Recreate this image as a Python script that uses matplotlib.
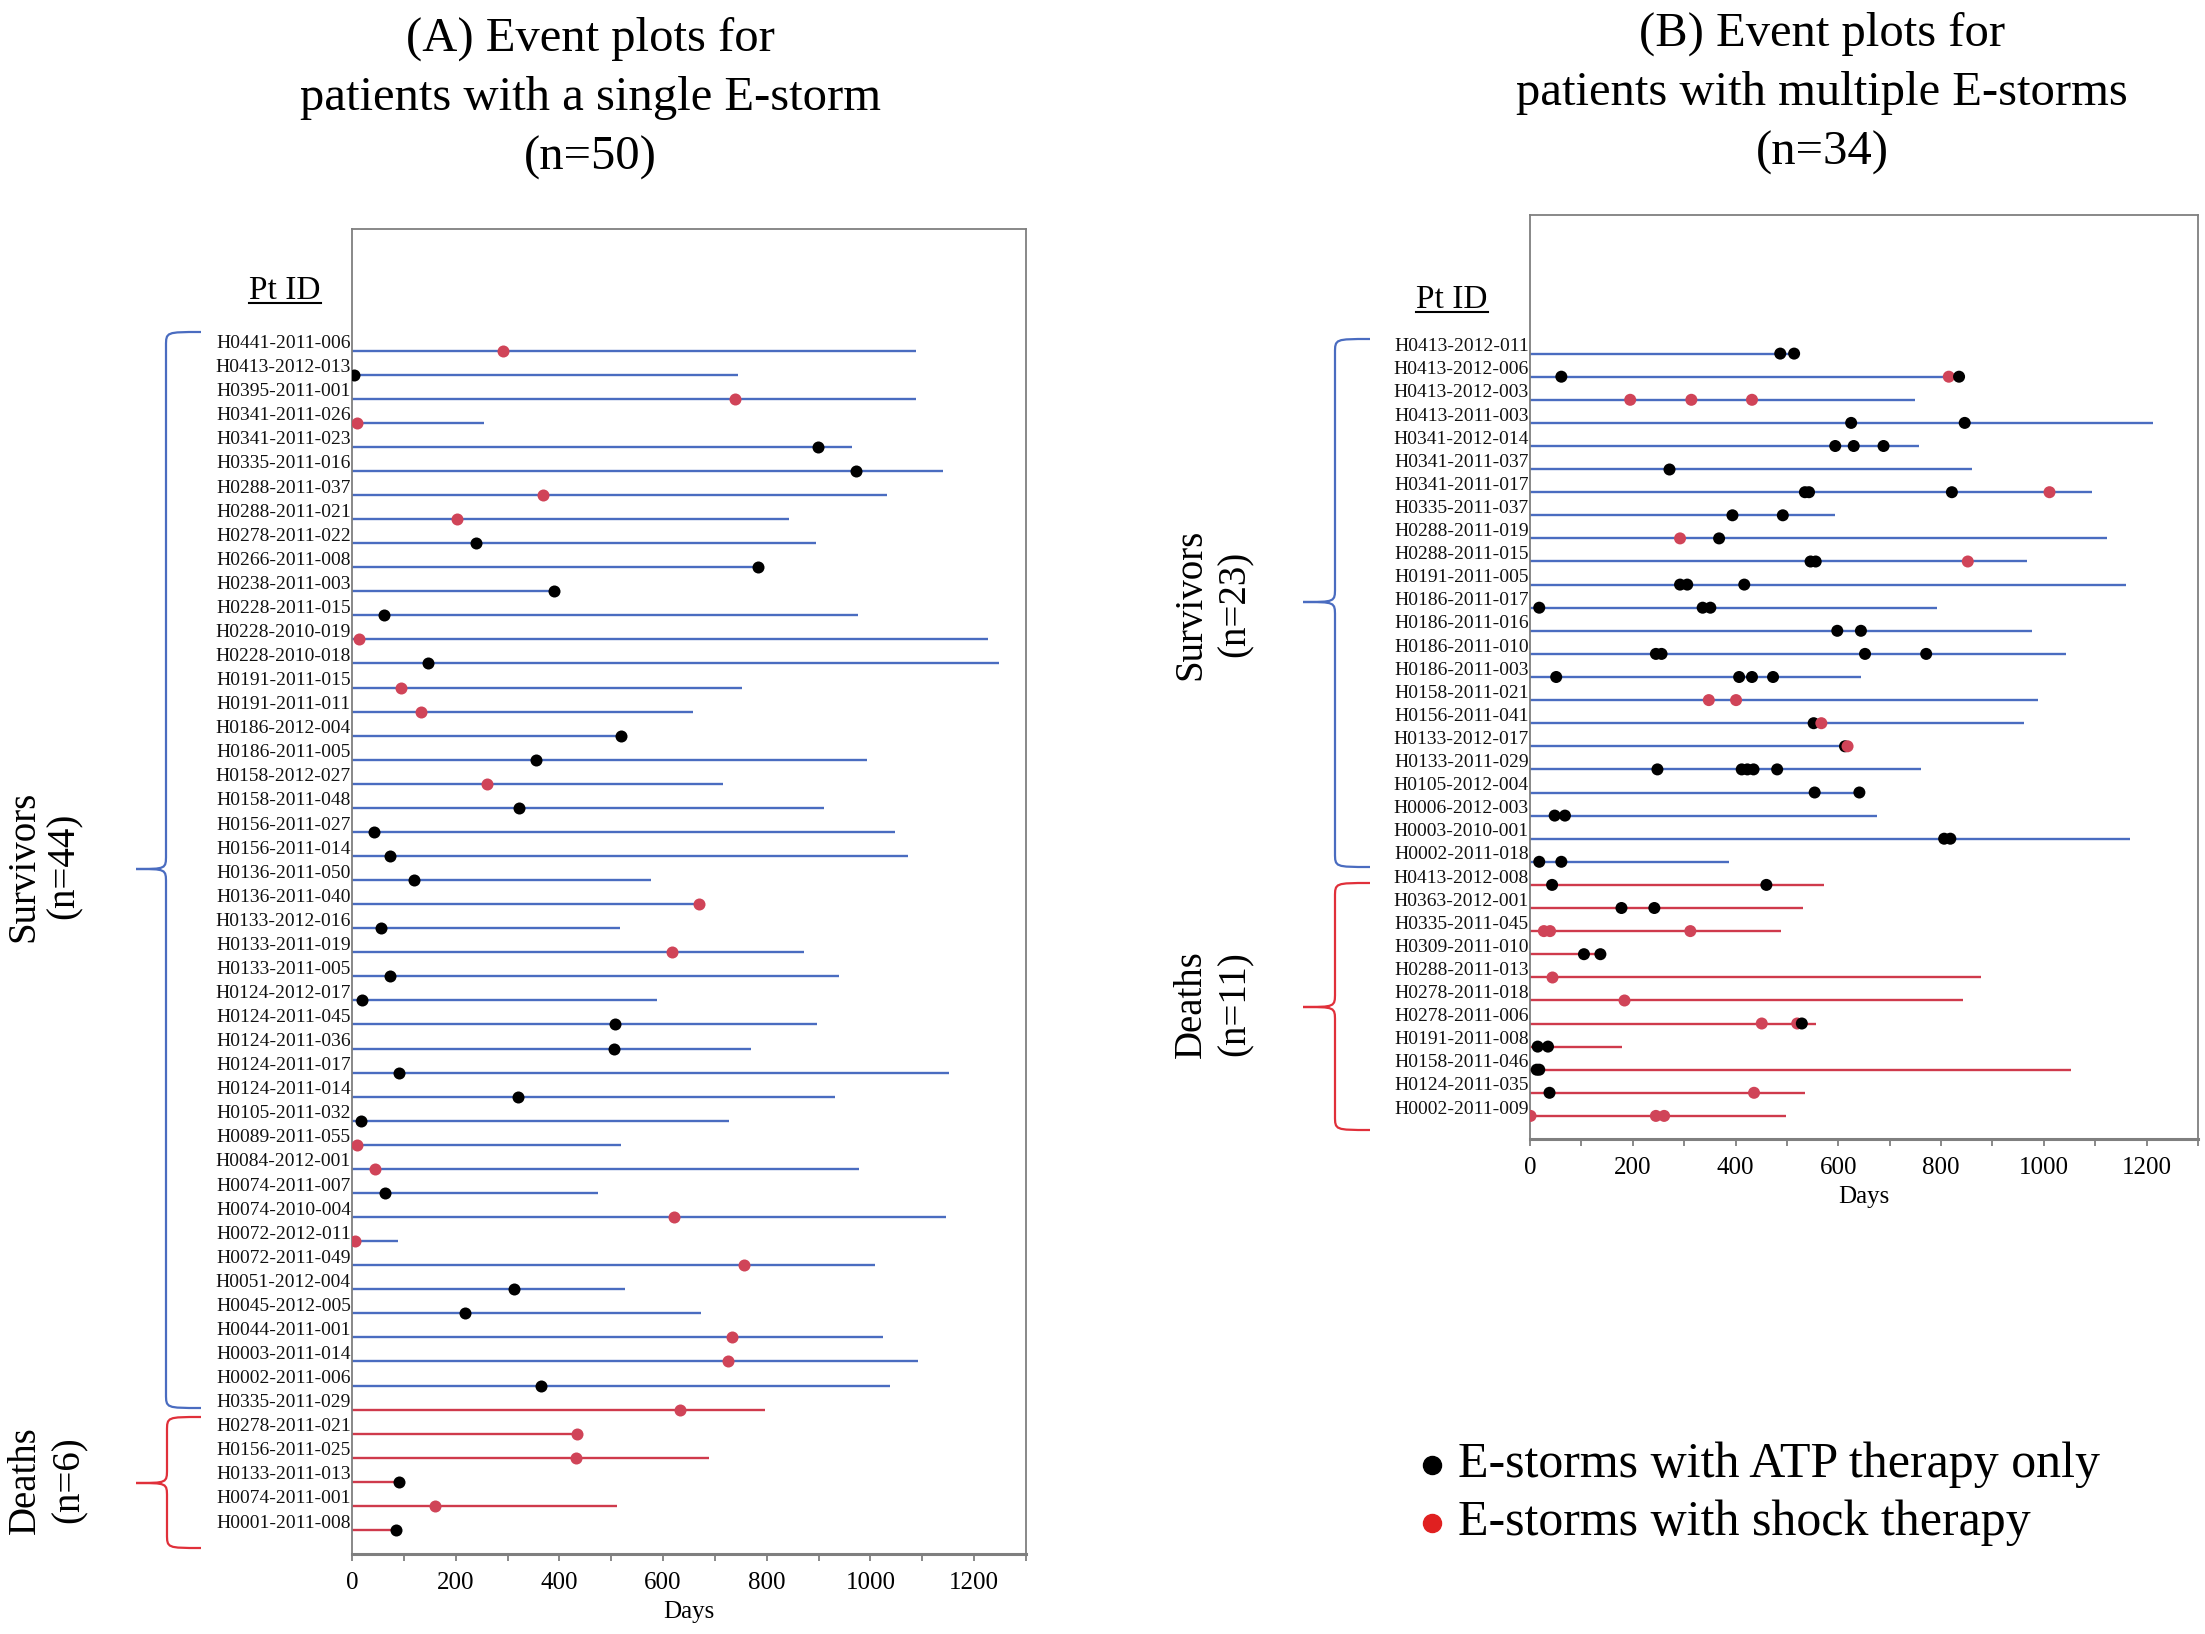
import matplotlib
matplotlib.use("Agg")
import matplotlib.pyplot as plt
from matplotlib.path import Path
from matplotlib.patches import PathPatch
from matplotlib.lines import Line2D
from matplotlib.ticker import MultipleLocator

SERIF = "Liberation Serif"
plt.rcParams['font.family'] = [SERIF, 'DejaVu Serif']

# ---------------- Panel A data (single E-storm) ----------------
ids_A = ["H0441-2011-006", "H0413-2012-013", "H0395-2011-001", "H0341-2011-026", "H0341-2011-023",
         "H0335-2011-016", "H0288-2011-037", "H0288-2011-021", "H0278-2011-022", "H0266-2011-008",
         "H0238-2011-003", "H0228-2011-015", "H0228-2010-019", "H0228-2010-018", "H0191-2011-015",
         "H0191-2011-011", "H0186-2012-004", "H0186-2011-005", "H0158-2012-027", "H0158-2011-048",
         "H0156-2011-027", "H0156-2011-014", "H0136-2011-050", "H0136-2011-040", "H0133-2012-016",
         "H0133-2011-019", "H0133-2011-005", "H0124-2012-017", "H0124-2011-045", "H0124-2011-036",
         "H0124-2011-017", "H0124-2011-014", "H0105-2011-032", "H0089-2011-055", "H0084-2012-001",
         "H0074-2011-007", "H0074-2010-004", "H0072-2012-011", "H0072-2011-049", "H0051-2012-004",
         "H0045-2012-005", "H0044-2011-001", "H0003-2011-014", "H0002-2011-006", "H0335-2011-029",
         "H0278-2011-021", "H0156-2011-025", "H0133-2011-013", "H0074-2011-001", "H0001-2011-008"]
end_A = [1087, 745, 1087, 254, 965, 1139, 1032, 842, 895, 783,
         390, 975, 1227, 1247, 753, 658, 519, 994, 716, 910,
         1047, 1073, 577, 669, 516, 871, 940, 589, 897, 770,
         1151, 931, 727, 518, 977, 475, 1145, 88, 1008, 526,
         674, 1025, 1092, 1038, 797, 434, 688, 91, 512, 85]
atp_A = [[], [4], [], [], [898], [973], [], [], [239], [783],
         [390], [62], [], [147], [], [], [519], [355], [], [322],
         [43], [73], [119], [], [56], [], [73], [20], [508], [505],
         [91], [320], [18], [], [], [64], [], [], [], [313],
         [217], [], [], [364], [], [], [], [91], [], [85]]
shock_A = [[292], [], [739], [10], [], [], [369], [202], [], [],
           [], [], [13], [], [95], [133], [], [], [261], [],
           [], [], [], [669], [], [618], [], [], [], [],
           [], [], [], [9], [44], [], [622], [6], [756], [],
           [], [732], [726], [], [632], [434], [432], [], [160], []]
n_surv_A = 44
n_death_A = 6

# ---------------- Panel B data (multiple E-storms) ----------------
ids_B = ["H0413-2012-011", "H0413-2012-006", "H0413-2012-003", "H0413-2011-003", "H0341-2012-014",
         "H0341-2011-037", "H0341-2011-017", "H0335-2011-037", "H0288-2011-019", "H0288-2011-015",
         "H0191-2011-005", "H0186-2011-017", "H0186-2011-016", "H0186-2011-010", "H0186-2011-003",
         "H0158-2011-021", "H0156-2011-041", "H0133-2012-017", "H0133-2011-029", "H0105-2012-004",
         "H0006-2012-003", "H0003-2010-001", "H0002-2011-018", "H0413-2012-008", "H0363-2012-001",
         "H0335-2011-045", "H0309-2011-010", "H0288-2011-013", "H0278-2011-018", "H0278-2011-006",
         "H0191-2011-008", "H0158-2011-046", "H0124-2011-035", "H0002-2011-009"]
end_B = [514, 835, 750, 1212, 758, 861, 1094, 594, 1123, 968,
         1159, 793, 977, 1044, 644, 989, 961, 618, 761, 641,
         675, 1167, 388, 572, 532, 489, 137, 877, 842, 556,
         179, 1052, 535, 498]
atp_B = [[487, 514], [61, 835], [], [625, 846], [594, 630, 688],
         [270], [535, 543, 821], [394, 492], [368], [546, 556],
         [292, 306, 417], [18, 336, 351], [598, 644], [245, 256, 652, 771], [51, 407, 432, 473],
         [], [552], [613], [248, 412, 423, 435, 481], [554, 641],
         [48, 68], [806, 818], [18, 61], [43, 460], [178, 242],
         [], [105, 137], [], [], [529],
         [15, 35], [13, 18], [38], []]
shock_B = [[], [815], [195, 314, 432], [], [],
           [], [1011], [], [292], [852],
           [], [], [], [], [],
           [348, 401], [567], [618], [], [],
           [], [], [], [], [],
           [27, 39, 312], [], [42], [183], [451, 520],
           [], [], [436], [1, 245, 261]]
n_surv_B = 23
n_death_B = 11

xticks = [0, 200, 400, 600, 800, 1000, 1200]

BLUE = "#4a6cc0"
RED_LINE = "#cf3a4c"
RED_DOT = "#d04458"
BLACK = "#000000"
GRAY = "#7f7f7f"

W, H = 2205, 1634
fig = plt.figure(figsize=(W / 100, H / 100), dpi=100)


def rect(l, t, r, b):
    return [l / W, 1 - b / H, (r - l) / W, (b - t) / H]


def fx(x):
    return x / W


def fy(y):
    return 1 - y / H


def draw_panel(ax, ids, ends, atp, shock, n_surv, top_pad):
    n = len(ids)
    for i in range(n):
        col = BLUE if i < n_surv else RED_LINE
        ax.plot([0, ends[i]], [i, i], color=col, lw=1.7, solid_capstyle='butt', zorder=2)
        evs = sorted([(d, BLACK) for d in atp[i]] + [(d, RED_DOT) for d in shock[i]])
        if evs:
            ax.scatter([d for d, _ in evs], [i] * len(evs), c=[c for _, c in evs],
                       s=75, zorder=3, linewidths=0)
        ax.text(-2, i - 0.1, ids[i], ha='right', va='baseline', fontsize=14,
                color="#111111")
    ax.set_xlim(0, 1300)
    ax.set_ylim(n, -top_pad)
    ax.set_yticks([])
    ax.set_xticks(xticks)
    ax.xaxis.set_minor_locator(MultipleLocator(100))
    ax.tick_params(axis='x', which='both', direction='out', length=5, width=1.3,
                   color=GRAY, labelsize=18, pad=8)
    for s in ax.spines.values():
        s.set_color(GRAY)
        s.set_linewidth(1.3)
    ax.spines['bottom'].set_linewidth(2.2)


axA = fig.add_axes(rect(352, 229, 1026, 1554))
draw_panel(axA, ids_A, end_A, atp_A, shock_A, n_surv_A, 5.05)
axB = fig.add_axes(rect(1530, 215, 2198, 1139))
draw_panel(axB, ids_B, end_B, atp_B, shock_B, n_surv_B, 6.0)

# x-axis labels
fig.text(fx(689), fy(1612), "Days", ha='center', va='center', fontsize=18)
fig.text(fx(1864), fy(1197), "Days", ha='center', va='center', fontsize=18)

# titles
fig.text(fx(590), fy(98), "(A) Event plots for\npatients with a single E-storm\n(n=50)",
         ha='center', va='center', fontsize=35, linespacing=1.45, multialignment='center')
fig.text(fx(1822), fy(93), "(B) Event plots for\npatients with multiple E-storms\n(n=34)",
         ha='center', va='center', fontsize=35, linespacing=1.45, multialignment='center')

# Pt ID headers
ptA = fig.text(fx(285), fy(291), "Pt ID", ha='center', va='center', fontsize=24)
ptB = fig.text(fx(1452), fy(300), "Pt ID", ha='center', va='center', fontsize=24)


def brace(xt, xv, xe, yt, yb, ym, color, r=14):
    verts = [(xe, yt), (xv, yt), (xv, yt), (xv, yt + r),
             (xv, ym - r),
             (xv, ym), (xv, ym), (xt, ym),
             (xv, ym), (xv, ym), (xv, ym + r),
             (xv, yb - r),
             (xv, yb), (xv, yb), (xe, yb)]
    codes = [Path.MOVETO, Path.CURVE4, Path.CURVE4, Path.CURVE4,
             Path.LINETO,
             Path.CURVE4, Path.CURVE4, Path.CURVE4,
             Path.CURVE4, Path.CURVE4, Path.CURVE4,
             Path.LINETO,
             Path.CURVE4, Path.CURVE4, Path.CURVE4]
    p = Path([(fx(x), fy(y)) for x, y in verts], codes)
    fig.add_artist(PathPatch(p, transform=fig.transFigure, fill=False,
                             edgecolor=color, lw=1.6))


brace(136, 166, 201, 332, 1408, 869, BLUE)
brace(136, 167, 201, 1417, 1548, 1483, "#e0303a")
brace(1303, 1335, 1370, 339, 867, 602, BLUE)
brace(1303, 1335, 1370, 883, 1130, 1007, "#e0303a")

fig.text(fx(44), fy(866), "Survivors\n(n=44)", rotation=90, ha='center', va='center',
         fontsize=28, linespacing=1.15, multialignment='center')
fig.text(fx(47), fy(1480), "Deaths\n(n=6)", rotation=90, ha='center', va='center',
         fontsize=28, linespacing=1.25, multialignment='center')
fig.text(fx(1213), fy(604), "Survivors\n(n=23)", rotation=90, ha='center', va='center',
         fontsize=28, linespacing=1.25, multialignment='center')
fig.text(fx(1213), fy(1004), "Deaths\n(n=11)", rotation=90, ha='center', va='center',
         fontsize=28, linespacing=1.25, multialignment='center')

# legend
legend_labels = ["E-storms with ATP therapy only", "E-storms with shock therapy"]
legend_colors = [BLACK, "#e02020"]
legend_y = [1465, 1523]
for lab, colr, yy in zip(legend_labels, legend_colors, legend_y):
    fig.add_artist(Line2D([fx(1432)], [fy(yy)], marker='o', markersize=13, color=colr,
                          linestyle='none', transform=fig.transFigure))
    fig.text(fx(1458), fy(yy), lab, ha='left', va='center', fontsize=36)

# underline Pt ID
fig.canvas.draw()
rend = fig.canvas.get_renderer()
for t in (ptA, ptB):
    bb = t.get_window_extent(rend)
    yline = bb.y0 + 3
    fig.add_artist(Line2D([bb.x0 / W, bb.x1 / W], [yline / H, yline / H], color='black',
                          lw=1.5, transform=fig.transFigure))

fig.savefig("out.png", dpi=100)
